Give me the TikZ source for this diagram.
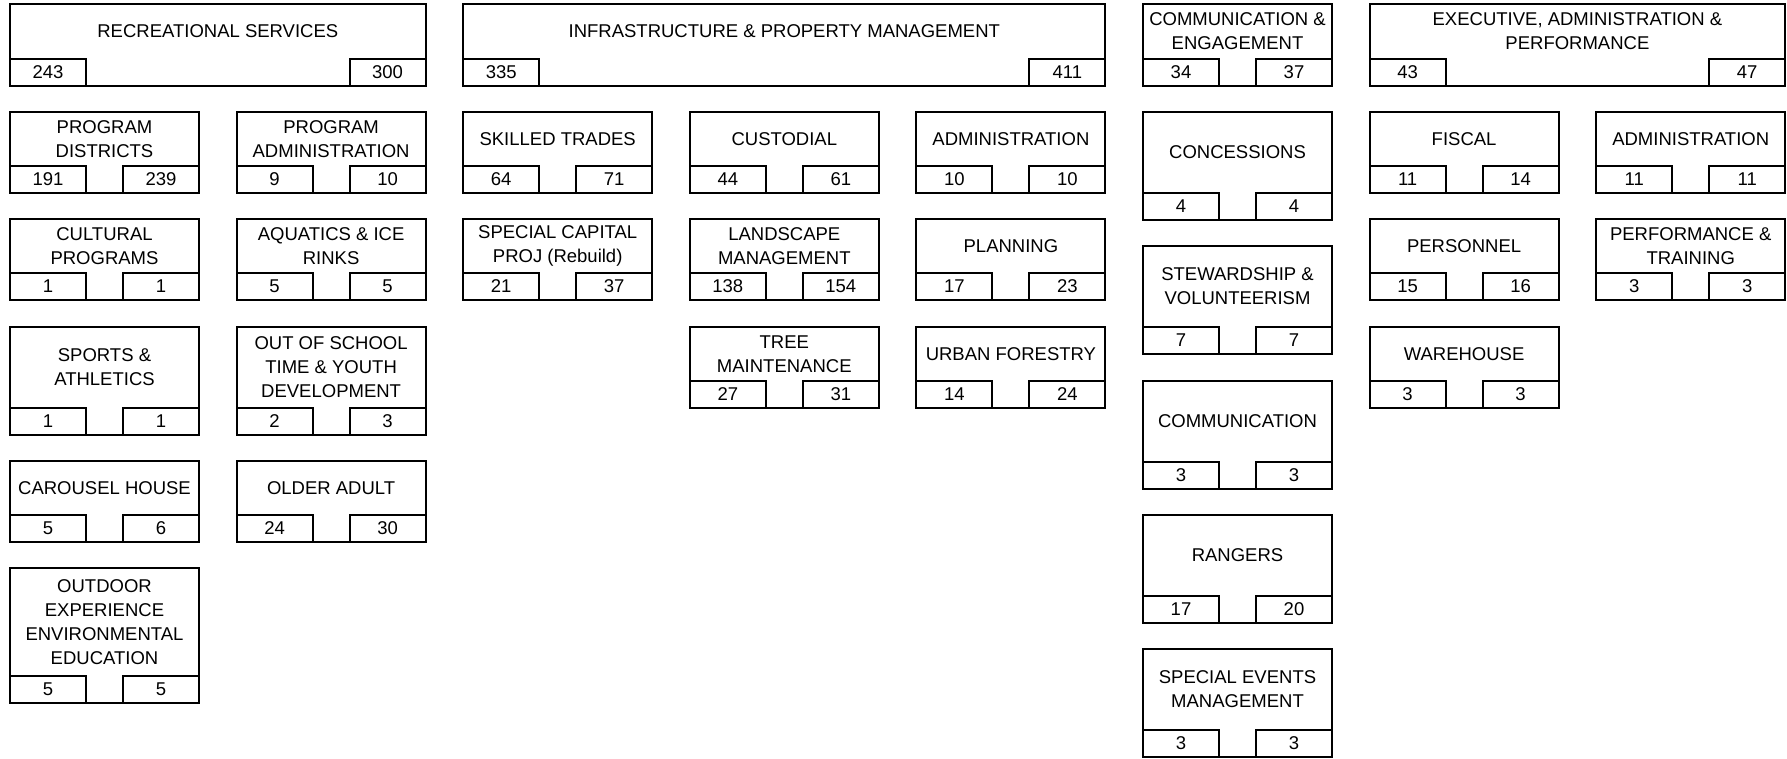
\documentclass[tikz,border=0pt]{standalone}
\usepackage{fontspec}
\setmainfont{Liberation Sans}
\tikzset{
  boxline/.style={draw=black, line width=2pt, line join=miter},
  title/.style={align=center, inner sep=0pt, text=black, font=\fontsize{18.5}{24}\selectfont},
  num/.style={inner sep=0pt, text=black, font=\fontsize{18.5}{24}\selectfont},
}
% #1 name, #2 left, #3 right, #4 top, #5 bottom, #6 title, #7 left number, #8 right number
\newcommand\obox[8]{%
  \draw[boxline] (#2,#4) rectangle (#3,#5);
  \draw[boxline] (#2,#5-27) -- (#2+76,#5-27) -- (#2+76,#5);
  \draw[boxline] (#3,#5-27) -- (#3-76,#5-27) -- (#3-76,#5);
  \node[title] (#1) at ({(#2+#3)/2},{(#4+#5-27)/2}) {#6};
  \node[num] (#1a) at ({#2+38},{#5-14}) {#7};
  \node[num] (#1b) at ({#3-38},{#5-14}) {#8};
}
\begin{document}
\begin{tikzpicture}[x=1pt,y=-1pt]
\useasboundingbox (0,0) rectangle (1787,759);
\fill[white] (0,0) rectangle (1787,759);
% top row
\obox{rec}{10}{425.6}{4}{86}{RECREATIONAL SERVICES}{243}{300}
\obox{infra}{463.2}{1105.4}{4}{86}{INFRASTRUCTURE \& PROPERTY MANAGEMENT}{335}{411}
\obox{comm}{1143}{1332}{4}{86}{COMMUNICATION \&\\ENGAGEMENT}{34}{37}
\obox{exec}{1369.6}{1785.2}{4}{86}{EXECUTIVE, ADMINISTRATION \&\\PERFORMANCE}{43}{47}
% column 0
\obox{pd}{10}{199}{112}{193}{PROGRAM\\DISTRICTS}{191}{239}
\obox{cp}{10}{199}{219}{300}{CULTURAL\\PROGRAMS}{1}{1}
\obox{sa}{10}{199}{327}{435}{SPORTS \&\\ATHLETICS}{1}{1}
\obox{ch}{10}{199}{461}{542}{CAROUSEL HOUSE}{5}{6}
\obox{oe}{10}{199}{568}{703}{OUTDOOR\\EXPERIENCE\\ENVIRONMENTAL\\EDUCATION}{5}{5}
% column 1
\obox{pa}{236.6}{425.6}{112}{193}{PROGRAM\\ADMINISTRATION}{9}{10}
\obox{aq}{236.6}{425.6}{219}{300}{AQUATICS \& ICE\\RINKS}{5}{5}
\obox{os}{236.6}{425.6}{327}{435}{OUT OF SCHOOL\\TIME \& YOUTH\\DEVELOPMENT}{2}{3}
\obox{oa}{236.6}{425.6}{461}{542}{OLDER ADULT}{24}{30}
% column 2
\obox{st}{463.2}{652.2}{112}{193}{SKILLED TRADES}{64}{71}
\obox{sc}{463.2}{652.2}{219}{300}{SPECIAL CAPITAL\\PROJ (Rebuild)}{21}{37}
% column 3
\obox{cu}{689.8}{878.8}{112}{193}{CUSTODIAL}{44}{61}
\obox{lm}{689.8}{878.8}{219}{300}{LANDSCAPE\\MANAGEMENT}{138}{154}
\obox{tm}{689.8}{878.8}{327}{408}{TREE\\MAINTENANCE}{27}{31}
% column 4
\obox{ad}{916.4}{1105.4}{112}{193}{ADMINISTRATION}{10}{10}
\obox{pl}{916.4}{1105.4}{219}{300}{PLANNING}{17}{23}
\obox{uf}{916.4}{1105.4}{327}{408}{URBAN FORESTRY}{14}{24}
% column 5
\obox{co}{1143}{1332}{112}{220}{CONCESSIONS}{4}{4}
\obox{sv}{1143}{1332}{246}{354}{STEWARDSHIP \&\\VOLUNTEERISM}{7}{7}
\obox{cm}{1143}{1332}{381}{489}{COMMUNICATION}{3}{3}
\obox{ra}{1143}{1332}{515}{623}{RANGERS}{17}{20}
\obox{se}{1143}{1332}{649}{757}{SPECIAL EVENTS\\MANAGEMENT}{3}{3}
% column 6
\obox{fi}{1369.6}{1558.6}{112}{193}{FISCAL}{11}{14}
\obox{pe}{1369.6}{1558.6}{219}{300}{PERSONNEL}{15}{16}
\obox{wh}{1369.6}{1558.6}{327}{408}{WAREHOUSE}{3}{3}
% column 7
\obox{ea}{1596.2}{1785.2}{112}{193}{ADMINISTRATION}{11}{11}
\obox{pt}{1596.2}{1785.2}{219}{300}{PERFORMANCE \&\\TRAINING}{3}{3}
\end{tikzpicture}
\end{document}
